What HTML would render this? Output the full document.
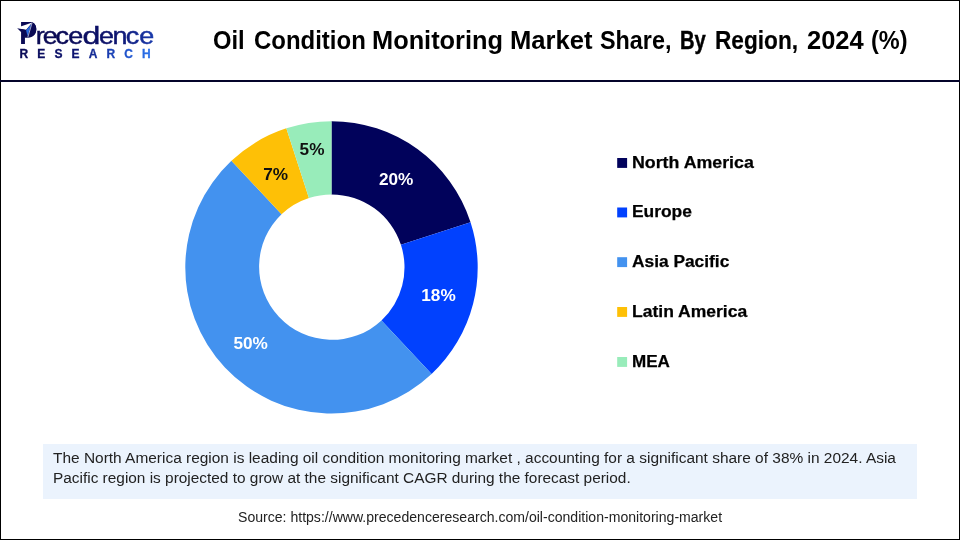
<!DOCTYPE html>
<html lang="en">
<head>
<meta charset="utf-8">
<title>Oil Condition Monitoring Market Share, By Region, 2024 (%)</title>
<style>
html,body{margin:0;padding:0;}
body{width:960px;height:540px;position:relative;overflow:hidden;background:#fff;font-family:"Liberation Sans",sans-serif;}
#frame{position:absolute;left:0;top:0;width:958px;height:538px;border:1px solid #000;}
#hline{position:absolute;left:0;top:80px;width:960px;height:2px;background:#04042a;}
.abs{position:absolute;white-space:nowrap;}
#title{position:absolute;left:0;top:21.8px;width:960px;height:36px;font-size:25px;font-weight:bold;color:#000;line-height:36px;}
#title span{position:absolute;top:0;white-space:nowrap;transform-origin:0 50%;}
.lg{font-size:16px;font-weight:bold;color:#000;-webkit-text-stroke:0.25px #000;line-height:20px;left:632.3px;transform-origin:0 50%;}
.mk{position:absolute;left:617px;width:10px;height:10px;}
.dl{font-size:17.2px;font-weight:bold;line-height:20px;transform:translate(-50%,-50%);}
#note{position:absolute;left:43px;top:444px;width:874px;height:55px;background:#ebf3fd;}
.nt{font-size:15.3px;color:#222;line-height:20px;left:53.2px;transform-origin:0 50%;}
#sline{left:237.6px;top:508.2px;font-size:14px;color:#222;line-height:18px;transform-origin:0 50%;transform:scaleX(1.005);}
</style>
</head>
<body>
<div id="frame"></div>
<div id="hline"></div>

<svg id="logo" role="img" aria-label="Precedence Research" class="abs" style="left:0;top:0" width="170" height="70" viewBox="0 0 170 70" xmlns="http://www.w3.org/2000/svg">
<defs>
<linearGradient id="lgA" gradientUnits="userSpaceOnUse" x1="20" y1="0" x2="154" y2="0">
<stop offset="0" stop-color="#0a0a55"/><stop offset="0.4" stop-color="#0d1470"/><stop offset="0.62" stop-color="#1837a8"/><stop offset="0.82" stop-color="#1f56d0"/><stop offset="1" stop-color="#2e78f0"/>
</linearGradient>
</defs>
<text id="lgP" transform="translate(19.29,44.2) scale(0.85,1)" font-family="Liberation Sans, sans-serif" font-size="31.8" font-weight="bold" fill="#0a0a55">P</text>
<text id="lgR" transform="translate(37.2,44.2) scale(1.1,1)" font-family="Liberation Sans, sans-serif" font-size="24.5" fill="url(#lgA)" stroke="url(#lgA)" stroke-width="0.45"><tspan x="-1.42 5.12 16.68 28.21">rece</tspan><tspan x="41.1" textLength="16.2" lengthAdjust="spacingAndGlyphs">d</tspan><tspan x="56.21 68.49 80.54 92.8">ence</tspan></text>
<g id="plane">
<path d="M24.5 21.9L31 21.9C34.4 22.3 36.2 25.4 36.2 29.3C36.2 34.2 33 37.8 28 37.8L24.5 37.8Z" fill="#0a0a55"/>
<polygon points="32.3,22.4 20.6,26.5 17.2,28.2 25.9,29.9" fill="#fff"/>
<polygon points="17.2,28.2 25.9,29.8 26.2,33.5 21.05,32" fill="#0a0a55"/>
<polygon points="31.3,24.1 26.1,30.3 27.5,36.1" fill="#2668de"/>
<line x1="32.1" y1="22.8" x2="27.8" y2="37.3" stroke="#dfeaff" stroke-width="0.7"/>
</g>
<text id="lgS" x="19.6" y="57.9" font-family="Liberation Sans, sans-serif" font-size="12" font-weight="bold" letter-spacing="9.1" fill="url(#lgA)" stroke="url(#lgA)" stroke-width="0.3">RESEARCH</text>
</svg>

<div id="title"><span style="left:213.35px;transform:scaleX(0.9500)">Oil</span> <span style="left:253.54px;transform:scaleX(0.9583)">Condition</span> <span style="left:372.05px;transform:scaleX(1.0147)">Monitoring</span> <span style="left:510.28px;transform:scaleX(1.0243)">Market</span> <span style="left:600.41px;transform:scaleX(0.9346)">Share,</span> <span style="left:680.40px;transform:scaleX(0.8079);-webkit-text-stroke:0.45px #000">By</span> <span style="left:715.48px;transform:scaleX(0.9054);-webkit-text-stroke:0.2px #000">Region,</span> <span style="left:806.62px;transform:scaleX(1.0201)">2024</span> <span style="left:871.06px;transform:scaleX(0.9392)">(%)</span></div>

<svg class="abs" style="left:0;top:0" width="960" height="540" viewBox="0 0 960 540" xmlns="http://www.w3.org/2000/svg">
<path d="M331.50 121.20A146.2 146.2 0 0 1 470.54 222.22L400.93 244.84A73.0 73.0 0 0 0 331.50 194.40Z" fill="#01025b"/>
<path d="M470.54 222.22A146.2 146.2 0 0 1 431.58 373.98L381.47 320.61A73.0 73.0 0 0 0 400.93 244.84Z" fill="#0141fe"/>
<path d="M431.58 373.98A146.2 146.2 0 0 1 231.42 160.82L281.53 214.19A73.0 73.0 0 0 0 381.47 320.61Z" fill="#4392ef"/>
<path d="M231.42 160.82A146.2 146.2 0 0 1 286.32 128.36L308.94 197.97A73.0 73.0 0 0 0 281.53 214.19Z" fill="#fec006"/>
<path d="M286.32 128.36A146.2 146.2 0 0 1 331.50 121.20L331.50 194.40A73.0 73.0 0 0 0 308.94 197.97Z" fill="#98ecba"/>
<rect x="617.2" y="158" width="9.9" height="9.9" fill="#01025b"/>
<rect x="617.2" y="207.5" width="9.9" height="9.9" fill="#0141fe"/>
<rect x="617.2" y="257.2" width="9.9" height="9.9" fill="#4392ef"/>
<rect x="617.2" y="307" width="9.9" height="9.9" fill="#fec006"/>
<rect x="617.2" y="357" width="9.9" height="9.9" fill="#98ecba"/>
</svg>

<div class="abs dl" style="left:396.2px;top:179.2px;color:#fff">20%</div>
<div class="abs dl" style="left:438.5px;top:295.2px;color:#fff">18%</div>
<div class="abs dl" style="left:250.6px;top:343.3px;color:#fff">50%</div>
<div class="abs dl" style="left:275.7px;top:174.3px;color:#111">7%</div>
<div class="abs dl" style="left:312px;top:148.5px;color:#111">5%</div>

<div class="abs lg" style="top:152.66px;transform:scaleX(1.111)">North America</div>
<div class="abs lg" style="top:202.16px;transform:scaleX(1.087)">Europe</div>
<div class="abs lg" style="top:251.86px;transform:scaleX(1.083)">Asia Pacific</div>
<div class="abs lg" style="top:301.66px;transform:scaleX(1.095)">Latin America</div>
<div class="abs lg" style="top:351.66px;transform:scaleX(1.065)">MEA</div>

<div id="note"></div>
<div class="abs nt" id="n1" style="top:448.4px;transform:scaleX(1.0095)">The North America region is leading oil condition monitoring market , accounting for a significant share of 38% in 2024. Asia</div>
<div class="abs nt" id="n2" style="top:468.4px;transform:scaleX(1.0065)">Pacific region is projected to grow at the significant CAGR during the forecast period.</div>

<div id="sline" class="abs">Source: https://www.precedenceresearch.com/oil-condition-monitoring-market</div>
</body>
</html>
